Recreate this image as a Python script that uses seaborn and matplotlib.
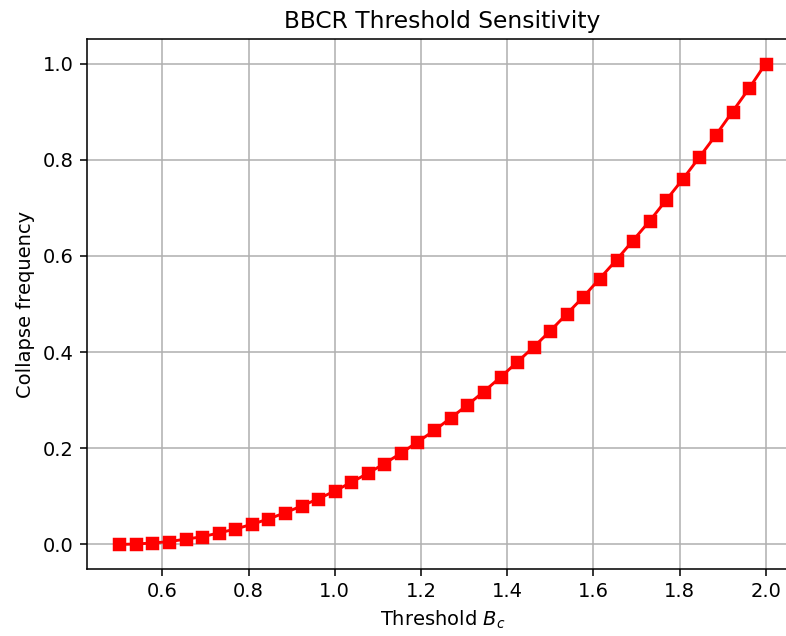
import numpy as np
import pandas as pd
import seaborn as sns
import matplotlib
matplotlib.use('Agg')
import matplotlib.pyplot as plt

# values
threshold = [0.5, 0.538, 0.577, 0.615, 0.654, 0.692, 0.731, 0.769, 0.808, 0.846,
             0.885, 0.923, 0.962, 1.0, 1.038, 1.077, 1.115, 1.154, 1.192, 1.231,
             1.269, 1.308, 1.346, 1.385, 1.423, 1.462, 1.5, 1.538, 1.577, 1.615,
             1.654, 1.692, 1.731, 1.769, 1.808, 1.846, 1.885, 1.923, 1.962, 2.0]
collapse_freq = [0.0, 0.001, 0.003, 0.006, 0.011, 0.016, 0.024, 0.032, 0.042, 0.053,
                 0.066, 0.080, 0.095, 0.111, 0.129, 0.148, 0.168, 0.190, 0.213, 0.237,
                 0.263, 0.290, 0.318, 0.348, 0.379, 0.411, 0.444, 0.479, 0.515, 0.553,
                 0.592, 0.632, 0.673, 0.716, 0.760, 0.805, 0.852, 0.900, 0.949, 1.0]

df = pd.DataFrame({'threshold': threshold, 'freq': collapse_freq})

dpi = 140
fig = plt.figure(figsize=(787 / dpi, 636 / dpi), dpi=dpi)
# axes runs a little past the right edge, as in the reference
ax = fig.add_axes([0.1105, 0.1061, 0.9035, 0.8318])
sns.lineplot(data=df, x='threshold', y='freq', ax=ax, color='red',
             marker='s', markersize=6, markeredgecolor='red', linewidth=1.5)
ax.grid(True)
ax.set_title('BBCR Threshold Sensitivity')
ax.set_xlabel('Threshold $B_c$')
ax.set_ylabel('Collapse frequency')
fig.savefig('out.png', dpi=dpi)
